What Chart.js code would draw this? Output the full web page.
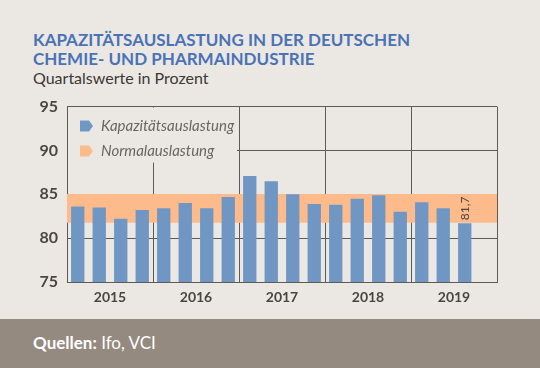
<!DOCTYPE html>
<html>
<head>
    <meta charset="utf-8">
    <title>Kapazitätsauslastung</title>
    <script src="https://cdn.jsdelivr.net/npm/chart.js"></script>
    <style>
        body { margin: 0; width: 540px; height: 368px; background: #ebe8e4; font-family: Lato, Arial, sans-serif; position: relative; overflow: hidden; }
        .title { position: absolute; left: 33px; top: 31px; color: #4a72b5; font-weight: bold; font-size: 17px; line-height: 18.5px; }
        .sub { position: absolute; left: 33px; top: 68px; color: #3d3833; font-size: 16px; }
        .chart { position: absolute; left: 0; top: 88px; width: 540px; height: 222px; }
        .footer { position: absolute; left: 0; top: 319px; width: 540px; height: 49px; background: #958a7f; color: #fff; font-size: 17px; }
        .footer span { position: absolute; left: 33px; top: 13px; }
    </style>
</head>
<body>
    <div class="title">KAPAZITÄTSAUSLASTUNG IN DER DEUTSCHEN<br>CHEMIE- UND PHARMAINDUSTRIE</div>
    <div class="sub">Quartalswerte in Prozent</div>
    <div class="chart"><canvas id="myChart" width="540" height="222"></canvas></div>
    <div class="footer"><span><b>Quellen:</b> Ifo, VCI</span></div>

    <script>
        // Daten
        const years = ['2015', '2016', '2017', '2018', '2019'];
        const quarters = ['Q1/15','Q2/15','Q3/15','Q4/15','Q1/16','Q2/16','Q3/16','Q4/16',
                          'Q1/17','Q2/17','Q3/17','Q4/17','Q1/18','Q2/18','Q3/18','Q4/18',
                          'Q1/19','Q2/19','Q3/19','Q4/19'];
        const auslastung = [83.6, 83.5, 82.2, 83.2, 83.4, 84.0, 83.4, 84.7,
                            87.1, 86.5, 85.0, 83.9, 83.8, 84.5, 84.9, 83.0,
                            84.1, 83.4, 81.7, null];
        const normalBereich = [81.8, 85.0];
        const yTicks = [75, 80, 85, 90, 95];

        const ink = '#4a4540';
        const line = '#5e5a55';
        const bg = '#ebe8e4';

        // Legende im Diagramm
        const legendPlugin = {
            id: 'legendBox',
            afterDraw(chart) {
                const ctx = chart.ctx;
                const a = chart.chartArea;
                ctx.save();
                ctx.fillStyle = bg;
                ctx.fillRect(a.left + 1, a.top + 1, 169, 55);
                const items = [
                    { text: 'Kapazitätsauslastung', color: '#7097c3', y: a.top + 14 },
                    { text: 'Normalauslastung', color: '#fdbb8c', y: a.top + 39 }
                ];
                items.forEach(it => {
                    const x = a.left + 13;
                    ctx.fillStyle = it.color;
                    ctx.beginPath();
                    ctx.moveTo(x, it.y);
                    ctx.lineTo(x + 9, it.y);
                    ctx.lineTo(x + 13, it.y + 5.5);
                    ctx.lineTo(x + 9, it.y + 11);
                    ctx.lineTo(x, it.y + 11);
                    ctx.closePath();
                    ctx.fill();
                    ctx.fillStyle = '#6a6560';
                    ctx.font = 'italic 15px Lato';
                    ctx.textBaseline = 'alphabetic';
                    ctx.fillText(it.text, x + 21, it.y + 10.5);
                });
                ctx.restore();
            }
        };

        // Wert ueber dem letzten Balken
        const lastLabelPlugin = {
            id: 'lastLabel',
            afterDatasetsDraw(chart) {
                const meta = chart.getDatasetMeta(1);
                let idx = -1;
                auslastung.forEach((v, i) => { if (v !== null) idx = i; });
                const bar = meta.data[idx];
                const ctx = chart.ctx;
                ctx.save();
                ctx.translate(bar.x, bar.y - 3);
                ctx.rotate(-Math.PI / 2);
                ctx.fillStyle = ink;
                ctx.font = '12px Lato';
                ctx.textAlign = 'left';
                ctx.textBaseline = 'middle';
                ctx.fillText(auslastung[idx].toFixed(1).replace('.', ','), 0, 0);
                ctx.restore();
            }
        };

        new Chart(document.getElementById('myChart'), {
            data: {
                labels: quarters,
                datasets: [
                    {
                        type: 'bar',
                        label: 'Normalauslastung',
                        xAxisID: 'x2',
                        data: years.map(() => normalBereich),
                        backgroundColor: '#fdbb8c',
                        borderWidth: 0,
                        barPercentage: 1,
                        categoryPercentage: 1,
                        grouped: false,
                        order: 2
                    },
                    {
                        type: 'bar',
                        label: 'Kapazitätsauslastung',
                        xAxisID: 'x',
                        data: auslastung,
                        backgroundColor: '#7097c3',
                        borderWidth: 0,
                        barPercentage: 0.62,
                        categoryPercentage: 1,
                        grouped: false,
                        order: 1
                    }
                ]
            },
            options: {
                responsive: false,
                animation: false,
                layout: { padding: { top: 10, right: 43, left: 0, bottom: 0 } },
                plugins: { legend: { display: false }, tooltip: { enabled: false } },
                scales: {
                    x: { display: false, labels: quarters },
                    x2: {
                        type: 'category',
                        labels: years,
                        position: 'bottom',
                        offset: true,
                        z: 1,
                        grid: { offset: true, color: line, drawTicks: false },
                        border: { color: line },
                        ticks: { color: ink, font: { family: 'Lato', size: 14, weight: 'bold' }, padding: 7 },
                        afterFit(s) { s.height = 28; }
                    },
                    y: {
                        min: 75,
                        max: 95,
                        afterBuildTicks(s) { s.ticks = yTicks.map(v => ({ value: v })); },
                        grid: { color: line, drawTicks: false },
                        border: { color: line },
                        ticks: { color: ink, font: { family: 'Lato', size: 16, weight: 'bold' }, padding: 9 },
                        afterFit(s) { s.width = 67; }
                    }
                }
            },
            plugins: [legendPlugin, lastLabelPlugin]
        });
    </script>
</body>
</html>
